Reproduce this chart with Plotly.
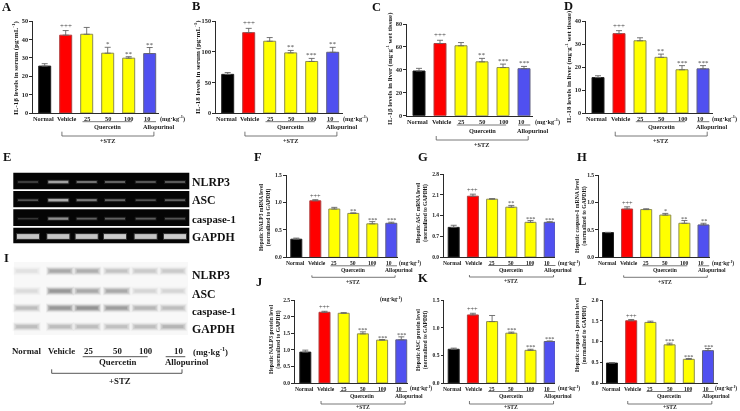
import plotly.graph_objects as go

W, H = 740, 411
SERIF = "Liberation Serif"
DARK = "#2a2a2a"

# ---------- data ----------
groups = ["Normal", "Vehicle", "25", "50", "100", "10"]

a_vals = [25.5, 42.3, 42.8, 32.5, 29.8, 32.3]
a_errs = [1.3, 2.5, 3.7, 3.2, 0.8, 3.3]
a_sig = ["", "+++", "", "*", "**", "**"]

b_vals = [63, 131, 117, 98, 84, 99]
b_errs = [3, 7, 6, 4, 5, 8]
b_sig = ["", "+++", "", "**", "***", "**"]

c_vals = [39, 63, 61, 47, 42, 41]
c_errs = [2.3, 2.8, 2.8, 3, 3, 2]
c_sig = ["", "+++", "", "**", "***", "***"]

d_vals = [15.4, 34.5, 31.4, 24.2, 18.8, 19.2]
d_errs = [0.8, 1.3, 1.3, 1.4, 1.8, 1.4]
d_sig = ["", "+++", "", "**", "***", "***"]

f_vals = [0.33, 1.03, 0.88, 0.80, 0.61, 0.62]
f_errs = [0.02, 0.02, 0.03, 0.01, 0.04, 0.02]
f_sig = ["", "+++", "", "**", "***", "***"]

g_vals = [1.0, 2.05, 1.95, 1.68, 1.17, 1.17]
g_errs = [0.07, 0.07, 0.02, 0.06, 0.06, 0.02]
g_sig = ["", "+++", "", "**", "***", "***"]

h_vals = [0.45, 0.88, 0.87, 0.77, 0.62, 0.59]
h_errs = [0.005, 0.04, 0.015, 0.03, 0.05, 0.03]
h_sig = ["", "+++", "", "*", "**", "**"]

j_vals = [0.93, 2.13, 2.10, 1.48, 1.29, 1.30]
j_errs = [0.06, 0.03, 0.02, 0.06, 0.02, 0.09]
j_sig = ["", "+++", "", "***", "***", "***"]

k_vals = [0.61, 1.23, 1.11, 0.90, 0.59, 0.75]
k_errs = [0.02, 0.03, 0.11, 0.02, 0.02, 0.01]
k_sig = ["", "+++", "", "***", "***", "***"]

l_vals = [0.48, 1.50, 1.46, 0.92, 0.57, 0.78]
l_errs = [0.01, 0.03, 0.03, 0.04, 0.02, 0.05]
l_sig = ["", "+++", "", "***", "***", "***"]

gel_labels = ["NLRP3", "ASC", "caspase-1", "GAPDH"]
gel_nlrp3 = [0.3, 0.75, 0.5, 0.45, 0.4, 0.42]
gel_asc = [0.35, 0.8, 0.55, 0.45, 0.35, 0.42]
gel_casp = [0.22, 0.65, 0.42, 0.42, 0.4, 0.35]
gel_gapdh = [0.95, 0.95, 0.95, 1.0, 0.95, 1.0]

blot_nlrp3 = [0.12, 0.5, 0.45, 0.3, 0.25, 0.25]
blot_asc = [0.15, 0.65, 0.5, 0.5, 0.2, 0.2]
blot_casp = [0.35, 0.65, 0.7, 0.6, 0.4, 0.35]
blot_gapdh = [0.35, 0.35, 0.35, 0.33, 0.35, 0.42]

bar_fill = ["#000000", "#ff0000", "#ffff00", "#ffff00", "#ffff00", "#5050f0"]
bar_edge = ["#222222", "#b04040", "#8c8c50", "#8c8c50", "#8c8c50", "#606080"]

# ---------- panel geometry (pixels) ----------
UP = (5.2, 8.7, 13.7, 18.7, 23, 27.7)
UPC = (6, 9.3, 15, 20.3, 24.3, 28.3)
MID = (6, 8.5, 12.7, 18, 20, 24.4)
LOW = (5.5, 8.5, 13, 18, 21, 23.7)
PANELS = [
    dict(vals=a_vals, errs=a_errs, sig=a_sig, ymax=50, dt=10, fmt="d", axis=33, right=159, top=21, bottom=113,
         c0=44.7, s=21, barw=12, fs=6.3, tfs=7, unit=6.1, off=UP, title="IL-1β levels in serum (pg·mL<sup>-1</sup>)", tx=15, ty=68),
    dict(vals=b_vals, errs=b_errs, sig=b_sig, ymax=150, dt=50, fmt="d", axis=216, right=343, top=21, bottom=113,
         c0=227.7, s=21, barw=12, fs=6.3, tfs=7, unit=6.1, off=UP, title="IL-18 levels in serum (pg·mL<sup>-1</sup>)", tx=197, ty=67),
    dict(vals=c_vals, errs=c_errs, sig=c_sig, ymax=80, dt=20, fmt="d", axis=407, right=533, top=24, bottom=115.7,
         c0=419, s=21, barw=12, fs=6.3, tfs=6.9, unit=6.1, off=UPC, title="IL-1β levels in liver (mg·g<sup>-1</sup> wet tissue)", tx=389, ty=69),
    dict(vals=d_vals, errs=d_errs, sig=d_sig, ymax=40, dt=10, fmt="d", axis=586, right=713, top=21, bottom=113,
         c0=598, s=21, barw=12, fs=6.3, tfs=6.9, unit=6.0, off=UP, title="IL-18 levels in liver (mg·g<sup>-1</sup> wet tissue)", tx=568, ty=67),
    dict(vals=f_vals, errs=f_errs, sig=f_sig, ymax=1.5, dt=0.5, fmt=".1f", axis=286.7, right=398, top=175, bottom=257.3,
         c0=296.3, s=19, barw=11, fs=5.6, tfs=5.5, unit=6.0, off=MID, title="Hepatic NALP3 mRNA level<br>(normalized to GAPDH)", tx=265, ty=217),
    dict(vals=g_vals, errs=g_errs, sig=g_sig, ymax=2.8, dt=0.7, fmt=".1f", axis=444, right=555, top=174, bottom=257,
         c0=453.7, s=19.2, barw=11, fs=5.6, tfs=5.5, unit=6.0, off=MID, title="Hepatic ASC mRNA level<br>(normalized to GAPDH)", tx=422, ty=212),
    dict(vals=h_vals, errs=h_errs, sig=h_sig, ymax=1.5, dt=0.5, fmt=".1f", axis=599, right=710, top=175, bottom=257.3,
         c0=608, s=19.1, barw=11, fs=5.6, tfs=5.7, unit=6.0, off=MID, title="Hepatic caspase-1 mRNA level<br>(normalized to GAPDH)", tx=581, ty=216),
    dict(vals=j_vals, errs=j_errs, sig=j_sig, ymax=2.5, dt=0.5, fmt=".1f", axis=295, right=407.7, top=300, bottom=383,
         c0=305.3, s=19.2, barw=11, fs=5.6, tfs=5.6, unit=6.0, off=LOW, title="Hepatic NALP3 protein level<br>(normalized to GAPDH)", tx=275, ty=340),
    dict(vals=k_vals, errs=k_errs, sig=k_sig, ymax=1.5, dt=0.5, fmt=".1f", axis=444.3, right=555, top=300, bottom=383,
         c0=453.7, s=19.2, barw=11, fs=5.6, tfs=5.6, unit=6.0, off=LOW, title="Hepatic ASC protein level<br>(normalized to GAPDH)", tx=422, ty=340),
    dict(vals=l_vals, errs=l_errs, sig=l_sig, ymax=2.0, dt=0.5, fmt=".1f", axis=603.3, right=718, top=300, bottom=383,
         c0=612, s=19.2, barw=11, fs=5.6, tfs=5.6, unit=5.95, off=LOW, title="Hepatic caspase-1 protein level<br>(normalized to GAPDH)", tx=581, ty=335),
]

LETTERS = [("A", 6, 7), ("B", 196, 6), ("C", 376, 7), ("D", 568, 6), ("E", 7, 157), ("F", 258, 157),
           ("G", 423, 157), ("H", 582, 157), ("I", 6, 258), ("J", 259, 282), ("K", 423, 278), ("L", 582, 281)]
# small sideways nudge of the two long labels, in units of one bar step
LABEL_NUDGE = [-0.05, 0.08, 0, 0, 0, -0.12]


def px(x):
    return x / W


def py(y):
    return 1 - y / H


fig = go.Figure()
annotations = []
shapes = []
layout = {}


def text(x, y, s, size, color="#1a1a1a", anchor="center", angle=0, bold=True):
    annotations.append(dict(
        xref="paper", yref="paper", x=px(x), y=py(y), text=f"<b>{s}</b>" if bold else s,
        showarrow=False, xanchor=anchor, yanchor="middle", textangle=angle,
        font=dict(family=SERIF, size=size, color=color), align="center",
        borderpad=0, borderwidth=0,
    ))


def seg(x0, y0, x1, y1, width=0.8, color="#555555"):
    shapes.append(dict(type="line", xref="paper", yref="paper", x0=px(x0), y0=py(y0), x1=px(x1), y1=py(y1),
                       line=dict(color=color, width=width)))


for i, p in enumerate(PANELS, start=1):
    suffix = "" if i == 1 else str(i)
    c0, s = p["c0"], p["s"]
    xr = [(p["axis"] - c0) / s, (p["right"] - c0) / s]
    ticks = []
    v = 0
    while v <= p["ymax"] + 1e-9:
        ticks.append(round(v, 3))
        v += p["dt"]
    fig.add_trace(go.Bar(
        x=list(range(6)), y=p["vals"], width=p["barw"] / s,
        marker=dict(color=bar_fill, line=dict(color=bar_edge, width=1)),
        error_y=dict(type="data", symmetric=False, array=p["errs"], arrayminus=[0] * 6,
                     color="#666666", thickness=0.9, width=3),
        xaxis=f"x{suffix}", yaxis=f"y{suffix}", showlegend=False,
    ))
    layout[f"xaxis{suffix}"] = dict(
        domain=[px(p["axis"]), px(p["right"])], range=xr, anchor=f"y{suffix}", ticks="", showticklabels=False,
        showline=True, linecolor=DARK, linewidth=1.4, showgrid=False, zeroline=False, automargin=False,
    )
    layout[f"yaxis{suffix}"] = dict(
        domain=[py(p["bottom"]), py(p["top"])], range=[0, p["ymax"]], anchor=f"x{suffix}", tickmode="array",
        tickvals=ticks, ticktext=[f"<b>{format(t if p['fmt'] != 'd' else int(t), p['fmt'])}</b>" for t in ticks],
        ticks="outside", ticklen=2.5, tickwidth=1, tickcolor=DARK, showline=True, linecolor=DARK, linewidth=1.4,
        showgrid=False, zeroline=False, tickfont=dict(family=SERIF, size=p["fs"], color="#1a1a1a"), automargin=False,
    )
    b = p["bottom"]
    o = p["off"]
    # group labels on the category axis, with the label row set from the axis line
    for k, g in enumerate(groups):
        annotations.append(dict(xref=f"x{suffix}", yref="paper", x=k + LABEL_NUDGE[k], y=py(b + o[0]),
                                text=f"<b>{g}</b>", showarrow=False, yanchor="middle", borderpad=0,
                                font=dict(family=SERIF, size=p["fs"], color="#1a1a1a")))
    # significance marks, placed above the error bars through the data axes
    for k, sg in enumerate(p["sig"]):
        if sg:
            annotations.append(dict(xref=f"x{suffix}", yref=f"y{suffix}", x=k, y=p["vals"][k] + p["errs"][k],
                                    yshift=0 if sg.startswith("+") else -2, text=sg, showarrow=False, yanchor="bottom",
                                    font=dict(family=SERIF, size=p["fs"] + 0.7, color="#444444"), borderpad=0))
    cx = lambda idx: c0 + idx * s
    seg(cx(1.8), b + o[1], cx(4.15), b + o[1])
    seg(cx(4.72), b + o[1], cx(5.3), b + o[1])
    text(cx(3), b + o[2], "Quercetin", p["fs"])
    text(cx(5.42), b + o[2], "Allopurinol", p["fs"])
    text(cx(p["unit"]), b + o[0], "(mg·kg<sup>-1</sup>)", p["fs"])
    seg(cx(0.82), b + o[4], cx(5.2), b + o[4])
    seg(cx(0.82), b + o[3], cx(0.82), b + o[4])
    seg(cx(5.2), b + o[3], cx(5.2), b + o[4])
    text(cx(3), b + o[5], "+STZ", p["fs"])
    text(p["tx"], p["ty"], p["title"], p["tfs"], angle=-90)

text(391, 299, "(mg·kg<sup>-1</sup>)", 5.6)

for t, x, y in LETTERS:
    text(x, y, t, 12.5, color="#111111")


def rect(x0, y0, x1, y1, fill, opacity=1.0):
    shapes.append(dict(type="rect", xref="paper", yref="paper", x0=px(x0), y0=py(y0), x1=px(x1), y1=py(y1),
                       fillcolor=fill, opacity=opacity, line=dict(width=0), layer="below"))


# ---------- panel E: agarose gel ----------
gel_rows = [(172.7, 189.3, gel_nlrp3), (191, 207.3, gel_asc), (209.3, 226, gel_casp), (227.7, 243.3, gel_gapdh)]
gel_lanes = [28, 58.3, 86.7, 115, 145.7, 175]
for (r0, r1, row), lab, yl in zip(gel_rows, gel_labels, [182, 200, 219, 237]):
    rect(13.3, r0, 189.3, r1, "#050505")
    mid = (r0 + r1) / 2 + 1
    big = lab == "GAPDH"
    for lx, a in zip(gel_lanes, row):
        hw = 12 if big else 11
        t = 2.4 if big else 0.5 + a * 1.0
        rect(lx - hw, mid - t - 1.0, lx + hw, mid + t + 1.0, "#ffffff", 0.2 * a)
        rect(lx - hw + 1, mid - t, lx + hw - 1, mid + t, "#ffffff", 0.75 * a)
    text(191.5, yl, lab, 10.8 if lab == "caspase-1" else 11.8, anchor="left", color="#111111")

# ---------- panel I: western blot ----------
rect(14, 262, 188, 335, "#f8f8f8")
blot_rows = [(271, blot_nlrp3), (291, blot_asc), (308, blot_casp), (326.7, blot_gapdh)]
blot_lanes = [26.7, 60, 87.3, 116.7, 145, 173]
for (ymid, row), lab, yl in zip(blot_rows, gel_labels, [275, 294, 311, 329]):
    for lx, a in zip(blot_lanes, row):
        for hw, ht, op in [(14, 4.4, 0.12), (13, 3.4, 0.2), (12, 2.5, 0.3), (10.5, 1.5, 0.4)]:
            rect(lx - hw, ymid - ht, lx + hw, ymid + ht, "#444444", op * a)
    text(191.5, yl, lab, 10.8 if lab == "caspase-1" else 11.8, anchor="left", color="#111111")

blot_text_x = [26.7, 61, 88, 117, 146, 178]
for g, x in zip(groups, blot_text_x):
    text(x, 351.3, g, 8.8)
text(211, 351, "(mg·kg<sup>-1</sup>)", 8.8)
seg(82.7, 356.7, 147.7, 356.7, 0.9, "#444444")
seg(165.7, 356.7, 185.3, 356.7, 0.9, "#444444")
text(118, 362.3, "Quercetin", 8.8)
text(186.7, 362.3, "Allopurinol", 8.8)
seg(51.7, 373.3, 182, 373.3, 0.9, "#444444")
seg(51.7, 369.3, 51.7, 373.3, 0.9, "#444444")
seg(182, 369.3, 182, 373.3, 0.9, "#444444")
text(120, 380.7, "+STZ", 8.8)

fig.update_layout(
    width=W, height=H, margin=dict(l=0, r=0, t=0, b=0), paper_bgcolor="#ffffff", plot_bgcolor="rgba(0,0,0,0)",
    showlegend=False, barmode="overlay", annotations=annotations, shapes=shapes, **layout,
)
fig.write_html("out.html", config={"displayModeBar": False},
               post_script="document.body.style.margin='0';document.body.style.filter='blur(0.45px)';")
